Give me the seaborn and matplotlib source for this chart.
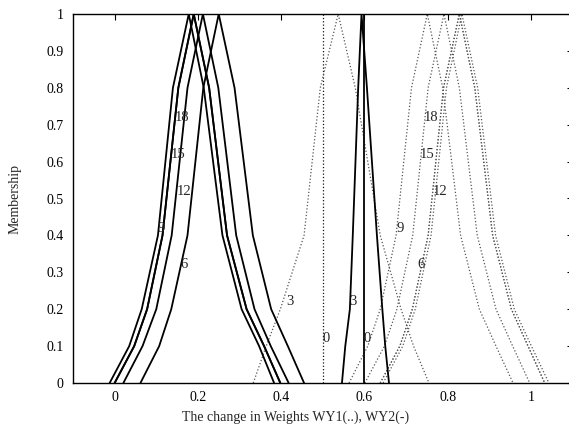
import pandas as pd
import seaborn as sns
from matplotlib import pyplot as plt

# membership levels of the sampled points (left leg up, right leg down)
y_tri = [0, 0.1, 0.2, 0.4, 0.8, 1.0, 0.8, 0.4, 0.2, 0.1, 0]
y_line = [0, 1]

# WY1 (dotted) weight membership curves by epoch
wy1_0 = [0.5, 0.5]
wy1_3 = [0.333, 0.364, 0.398, 0.455, 0.494, 0.537, 0.578, 0.638, 0.688, 0.718, 0.755]
wy1_6 = [0.638, 0.685, 0.715, 0.753, 0.790, 0.828, 0.865, 0.908, 0.953, 0.993, 1.033]
wy1_9 = [0.563, 0.608, 0.638, 0.676, 0.713, 0.751, 0.788, 0.831, 0.876, 0.916, 0.957]
wy1_12 = [0.645, 0.692, 0.722, 0.760, 0.797, 0.834, 0.872, 0.915, 0.960, 1.001, 1.043]
wy1_15 = [0.601, 0.648, 0.678, 0.716, 0.753, 0.791, 0.828, 0.871, 0.916, 0.956, 0.997]
wy1_18 = [0.638, 0.685, 0.715, 0.753, 0.790, 0.828, 0.865, 0.908, 0.953, 0.993, 1.033]

# WY2 (solid) weight membership curves by epoch
wy2_0 = [0.6, 0.6]
wy2_3 = [0.546, 0.554, 0.565, 0.572, 0.585, 0.593, 0.606, 0.630, 0.643, 0.650, 0.659]
wy2_6 = [0.062, 0.107, 0.136, 0.175, 0.213, 0.250, 0.288, 0.332, 0.376, 0.416, 0.455]
wy2_9 = [-0.012, 0.035, 0.065, 0.104, 0.140, 0.178, 0.214, 0.259, 0.305, 0.347, 0.383]
wy2_12 = [0.021, 0.067, 0.100, 0.137, 0.175, 0.212, 0.249, 0.292, 0.336, 0.375, 0.418]
wy2_15 = [0.000, 0.047, 0.078, 0.115, 0.153, 0.190, 0.227, 0.270, 0.317, 0.359, 0.398]
wy2_18 = [0.000, 0.047, 0.078, 0.115, 0.153, 0.190, 0.227, 0.270, 0.317, 0.359, 0.398]

# epoch labels written on the curves
wy1_labels = ["0", "3", "6", "9", "12", "15", "18"]
wy1_label_x = [0.508, 0.422, 0.735, 0.686, 0.781, 0.751, 0.759]
wy1_label_y = [0.12, 0.22, 0.32, 0.42, 0.52, 0.62, 0.72]
wy2_labels = ["0", "3", "6", "9", "12", "15", "18"]
wy2_label_x = [0.607, 0.573, 0.166, 0.111, 0.166, 0.153, 0.163]
wy2_label_y = [0.12, 0.22, 0.32, 0.42, 0.52, 0.62, 0.72]

x_ticks = [0, 0.2, 0.4, 0.6, 0.8, 1]
x_ticklabels = ["0", "0.2", "0.4", "0.6", "0.8", "1"]
y_ticks = [0, 0.1, 0.2, 0.3, 0.4, 0.5, 0.6, 0.7, 0.8, 0.9, 1]
y_ticklabels = ["0", "0.1", "0.2", "0.3", "0.4", "0.5", "0.6", "0.7", "0.8", "0.9", "1"]

sns.set_theme(style="white")
plt.rcParams["font.family"] = ["Liberation Serif", "DejaVu Serif"]
plt.rcParams["font.size"] = 10

fig = plt.figure(figsize=(5.69, 4.36), dpi=100)
ax = fig.add_axes([73 / 569, 1 - 383 / 436, 499.6 / 569, 369 / 436])

wy1 = [wy1_0, wy1_3, wy1_6, wy1_9, wy1_12, wy1_15, wy1_18]
wy2 = [wy2_0, wy2_3, wy2_6, wy2_9, wy2_12, wy2_15, wy2_18]

for i, xs in enumerate(wy1):
    ys = y_line if len(xs) == 2 else y_tri
    df = pd.DataFrame({"x": xs, "y": ys})
    # the epoch-0 line is printed darker than the others
    col = "#111111" if i == 0 else "#555555"
    sns.lineplot(data=df, x="x", y="y", estimator=None, sort=False, ax=ax,
                 color=col, linewidth=0.9, linestyle=":")

for xs in wy2:
    ys = y_line if len(xs) == 2 else y_tri
    df = pd.DataFrame({"x": xs, "y": ys})
    sns.lineplot(data=df, x="x", y="y", estimator=None, sort=False, ax=ax,
                 color="black", linewidth=1.3)

for lab, lx, ly in zip(wy1_labels, wy1_label_x, wy1_label_y):
    ax.text(lx, ly, lab, ha="center", va="center", fontsize=10.5)
for lab, lx, ly in zip(wy2_labels, wy2_label_x, wy2_label_y):
    ax.text(lx, ly, lab, ha="center", va="center", fontsize=10.5)

ax.set_xlim(-0.1, 1.1)
ax.set_ylim(0, 1)
ax.set_xticks(x_ticks)
ax.set_xticklabels(x_ticklabels)
ax.set_yticks(y_ticks)
ax.set_yticklabels(y_ticklabels)
ax.tick_params(direction="in", length=4, width=0.8, top=True, right=True,
               labelsize=10, colors="black")
ax.tick_params(axis="x", pad=6)
ax.tick_params(axis="y", pad=7)
for sp in ax.spines.values():
    sp.set_color("black")
    sp.set_linewidth(1.0)

ax.set_xlabel("The change in Weights WY1(..), WY2(-)", fontsize=10)
ax.xaxis.set_label_coords(0.446, -0.075)
ax.set_ylabel("Membership", fontsize=10)
ax.yaxis.set_label_coords(-0.104, 0.5)

fig.savefig("out.png", dpi=100)
